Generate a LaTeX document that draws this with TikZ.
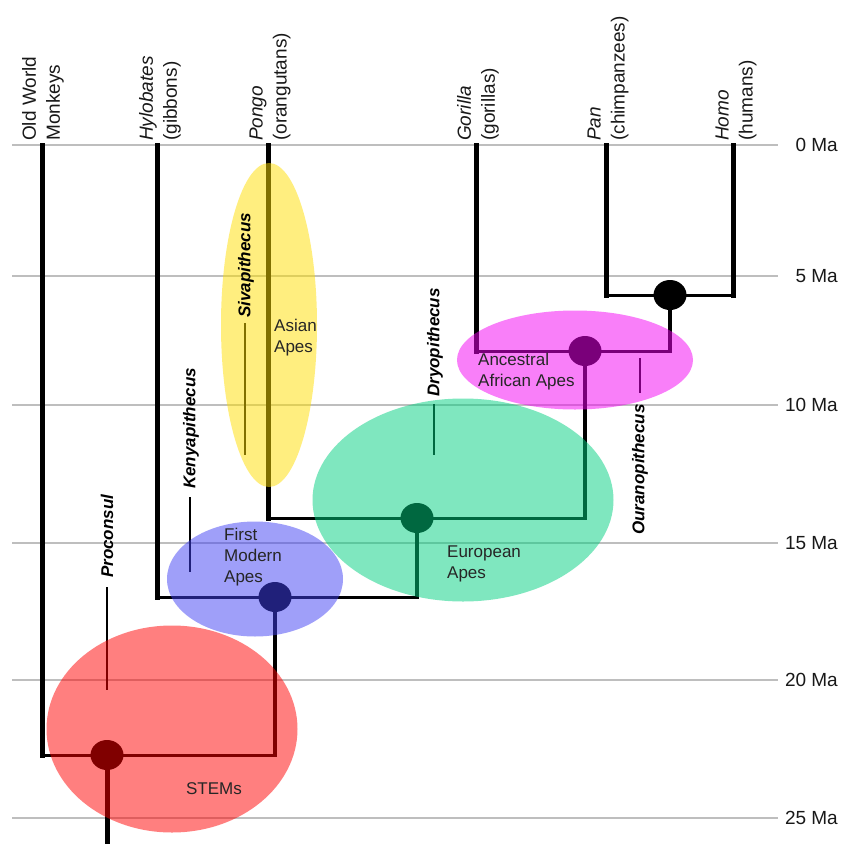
\documentclass[tikz,border=0pt]{standalone}
\usepackage{fontspec}
\setmainfont{Liberation Sans}
\usetikzlibrary{shapes.geometric}
\definecolor{cYellow}{RGB}{255,222,0}
\definecolor{cMagenta}{RGB}{245,0,245}
\definecolor{cGreen}{RGB}{0,208,128}
\definecolor{cBlue}{RGB}{64,64,245}
\definecolor{cRed}{RGB}{255,0,0}
\definecolor{cGrid}{RGB}{190,190,190}
\begin{document}
\begin{tikzpicture}[x=1pt,y=-1pt,
  gridline/.style={draw=cGrid, line width=1.5pt},
  leaf/.style={line width=5pt, line cap=rect},
  hbar/.style={line width=3pt, line cap=rect},
  stemline/.style={line width=4pt},
  fossil/.style={line width=2.5pt},
  junc/.style={ellipse, fill=black, minimum width=33pt, minimum height=30pt, inner sep=0pt},
  toplab/.style={rotate=90, anchor=west, align=left, inner sep=0pt, text=black!90, font=\fontsize{19}{24}\selectfont},
  fosslab/.style={rotate=90, anchor=west, inner sep=0pt, font=\fontsize{17}{20}\selectfont\bfseries\itshape},
  cladelab/.style={anchor=west, align=left, inner sep=0pt, text=black!85, font=\fontsize{17}{21}\selectfont},
  axlab/.style={anchor=east, inner sep=0pt, text=black!90, font=\fontsize{19}{22}\selectfont},
  blob/.style={ellipse, inner sep=0pt, draw=none, fill opacity=0.5}
]
\useasboundingbox (0,0) rectangle (851,843);
\fill[white] (0,0) rectangle (851,843);

% time axis
\foreach \nm/\yy/\lab in {a0/145/0, a5/276/5, a10/405/10, a15/543/15, a20/680/20, a25/818/25}{
  \coordinate (\nm s) at (12,\yy);
  \coordinate (\nm e) at (778,\yy);
  \draw[gridline] (\nm s) -- (\nm e);
  \node[axlab] (\nm lab) at (838,\yy) {\lab{} Ma};
}

% leaf tips
\coordinate (owm) at (42,145);
\coordinate (hyl) at (157,145);
\coordinate (pon) at (268,145);
\coordinate (gor) at (476,145);
\coordinate (pan) at (606,145);
\coordinate (hom) at (733,145);
\coordinate (root) at (107,845);

% junctions
\node[junc] (jHP) at (670,295) {};
\node[junc] (jAF) at (585,351) {};
\node[junc] (jEU) at (417,518) {};
\node[junc] (jFM) at (275,597) {};
\node[junc] (jST) at (107,755) {};

% tree
\draw[leaf] (pan) -- (pan |- jHP.center);
\draw[leaf] (hom) -- (hom |- jHP.center);
\draw[hbar] (pan |- jHP.center) -- (hom |- jHP.center);
\draw[stemline] (jHP.center) -- (jHP |- jAF.center);
\draw[leaf] (gor) -- (gor |- jAF.center);
\draw[hbar] (gor |- jAF.center) -- (jHP |- jAF.center);
\draw[stemline] (jAF.center) -- (jAF |- jEU.center);
\draw[leaf] (pon) -- (pon |- jEU.center);
\draw[hbar] (pon |- jEU.center) -- (jAF |- jEU.center);
\draw[stemline] (jEU.center) -- (jEU |- jFM.center);
\draw[leaf] (hyl) -- (hyl |- jFM.center);
\draw[hbar] (hyl |- jFM.center) -- (jEU |- jFM.center);
\draw[stemline] (jFM.center) -- (jFM |- jST.center);
\draw[leaf] (owm) -- (owm |- jST.center);
\draw[hbar] (owm |- jST.center) -- (jFM |- jST.center);
\draw[leaf] (jST.center) -- (root);

% fossil ticks
\coordinate (siva1) at (245,323); \coordinate (siva2) at (245,455);
\coordinate (keny1) at (190,497); \coordinate (keny2) at (190,572);
\coordinate (dryo1) at (434,404); \coordinate (dryo2) at (434,455);
\coordinate (oura1) at (640,358); \coordinate (oura2) at (640,393);
\coordinate (proc1) at (107,587); \coordinate (proc2) at (107,690);
\draw[fossil] (siva1) -- (siva2);
\draw[fossil] (keny1) -- (keny2);
\draw[fossil] (dryo1) -- (dryo2);
\draw[fossil] (oura1) -- (oura2);
\draw[fossil] (proc1) -- (proc2);

% translucent clade ellipses
\node[blob, fill=cYellow, minimum width=96pt, minimum height=324pt] (eAsia) at (269,325) {};
\node[blob, fill=cMagenta, minimum width=236pt, minimum height=99pt] (eAfr) at (575,360) {};
\node[blob, fill=cGreen, minimum width=301pt, minimum height=203pt] (eEur) at (463,500) {};
\node[blob, fill=cBlue, minimum width=176pt, minimum height=115pt] (eFM) at (255,579) {};
\node[blob, fill=cRed, minimum width=251pt, minimum height=207pt] (eST) at (172,729) {};

% clade labels
\node[cladelab] (tAsia) at (274,338) {Asian\\Apes};
\node[cladelab] (tAfr) at (478,372) {Ancestral\\African Apes};
\node[cladelab] (tEur) at (447,564) {European\\Apes};
\node[cladelab] (tFM) at (224,557) {First\\Modern\\Apes};
\node[cladelab, anchor=center] (tST) at (214,789) {STEMs};

% fossil labels
\node[fosslab] (lsiva) at (246,318) {Sivapithecus};
\node[fosslab] (lkeny) at (191,489) {Kenyapithecus};
\node[fosslab] (ldryo) at (435,397) {Dryopithecus};
\node[fosslab] (loura) at (640,535) {Ouranopithecus};
\node[fosslab] (lproc) at (107,578) {Proconsul};

% taxon labels
\node[toplab] (lowm) at (43,141) {Old World\\Monkeys};
\node[toplab] (lhyl) at (160,141) {\textit{Hylobates}\\(gibbons)};
\node[toplab] (lpon) at (270,141) {\textit{Pongo}\\(orangutans)};
\node[toplab] (lgor) at (478,141) {\textit{Gorilla}\\(gorillas)};
\node[toplab] (lpan) at (608,141) {\textit{Pan}\\(chimpanzees)};
\node[toplab] (lhom) at (736,141) {\textit{Homo}\\(humans)};
\end{tikzpicture}
\end{document}
